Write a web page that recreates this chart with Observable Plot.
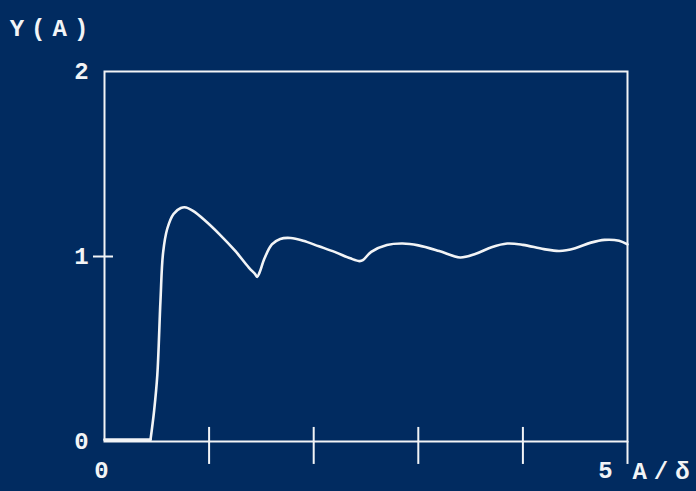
<!DOCTYPE html>
<html>
<head>
<meta charset="utf-8">
<script src="https://cdn.jsdelivr.net/npm/d3@7"></script>
<script src="https://cdn.jsdelivr.net/npm/@observablehq/plot@0.6"></script>
<style>
  html, body { margin: 0; padding: 0; background: #012b60; }
  #chart svg { display: block; }
</style>
</head>
<body>
<div id="chart"></div>
<script>
// Curve Y(A) vs A/δ : flat part, then oscillating part
const flatX = [0, 0.44];
const flatY = [0.01, 0.01];
const xs = [0.44, 0.475, 0.505, 0.535, 0.56, 0.6, 0.66, 0.73, 0.78, 0.85, 0.95, 1.1, 1.25, 1.38, 1.44, 1.46, 1.48, 1.53, 1.6, 1.68, 1.78, 1.9, 2.05, 2.2, 2.35, 2.44, 2.47, 2.55, 2.7, 2.85, 3.0, 3.2, 3.4, 3.55, 3.7, 3.85, 4.0, 4.2, 4.35, 4.5, 4.65, 4.78, 4.92, 5.0];
const ys = [0.01, 0.17, 0.36, 0.76, 1.02, 1.15, 1.23, 1.262, 1.265, 1.245, 1.2, 1.12, 1.03, 0.94, 0.905, 0.89, 0.91, 0.99, 1.065, 1.095, 1.10, 1.085, 1.055, 1.025, 0.99, 0.975, 0.98, 1.025, 1.062, 1.07, 1.06, 1.03, 0.995, 1.015, 1.05, 1.07, 1.063, 1.04, 1.03, 1.045, 1.075, 1.09, 1.085, 1.065];

const xTickMarks = [1, 2, 3, 4];
const yTickMarks = [1];
const yTickLabels = [0, 1, 2];
const xTickLabelFirst = "0";
const xTickLabelLast = "5";
const xAxisTitle = "A/δ";
const yAxisTitle = "Y(A)";

const flat = flatX.map((x, i) => ({x, y: flatY[i]}));
const data = xs.map((x, i) => ({x, y: ys[i]}));
const ink = "#f2f4f6";
const font = "'Liberation Mono', 'DejaVu Sans Mono', monospace";
const txt = {fontSize: 24, fontWeight: "bold", fill: ink, fontFamily: font};

const chart = Plot.plot({
  width: 696,
  height: 491,
  marginLeft: 104,
  marginRight: 69,
  marginTop: 71,
  marginBottom: 50,
  style: {background: "#012b60", color: ink, fontFamily: font},
  x: {domain: [0, 5], axis: null},
  y: {domain: [0, 2], axis: null},
  marks: [
    Plot.frame({stroke: ink, strokeWidth: 2}),
    Plot.ruleX(xTickMarks, {y1: -0.124, y2: 0.076, stroke: ink, strokeWidth: 2}),
    Plot.ruleX([5], {y1: -0.124, y2: 0, stroke: ink, strokeWidth: 2}),
    Plot.ruleY(yTickMarks, {x1: -0.105, x2: 0.086, stroke: ink, strokeWidth: 2}),
    Plot.line(flat, {x: "x", y: "y", stroke: ink, strokeWidth: 2.6}),
    Plot.line(data, {x: "x", y: "y", stroke: ink, strokeWidth: 2.6, curve: "catmull-rom"}),
    Plot.text(yTickLabels, {x: 0, y: d => d, text: d => String(d), dx: -23, ...txt}),
    Plot.text([xTickLabelFirst], {x: 0, y: 0, text: d => d, dx: -3, dy: 29, ...txt}),
    Plot.text([xTickLabelLast], {x: 5, y: 0, text: d => d, dx: -22, dy: 29, ...txt}),
    Plot.text([xAxisTitle], {x: 5, y: 0, text: d => d, dx: 37, dy: 30, className: "xtitle", ...txt}),
    Plot.text([yAxisTitle], {x: 0, y: 2, text: d => d, dx: -52, dy: -43, className: "ytitle", ...txt})
  ]
});
d3.select(chart).selectAll(".xtitle text").attr("letter-spacing", 7);
d3.select(chart).selectAll(".ytitle text").attr("letter-spacing", 7);
document.getElementById("chart").appendChild(chart);
</script>
</body>
</html>
